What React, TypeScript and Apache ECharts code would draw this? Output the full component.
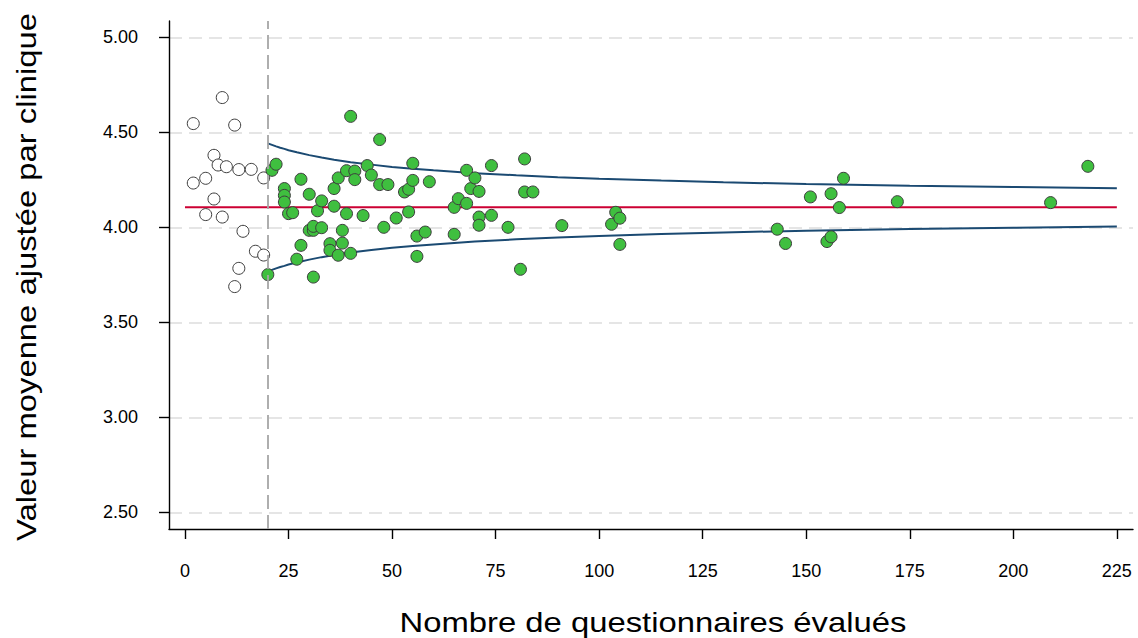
import React, { useEffect, useRef } from 'react';
import * as echarts from 'echarts';

// Clinics below the 20-questionnaire threshold (hollow markers)
const smallClinicN = [9, 2, 12, 7, 8, 10, 13, 16, 19, 5, 2, 7, 5, 9, 14, 17, 19, 13, 12];
const smallClinicMean = [4.683, 4.546, 4.538, 4.379, 4.328, 4.319, 4.304, 4.305, 4.26, 4.258, 4.233, 4.149, 4.067, 4.054, 3.979, 3.874, 3.854, 3.784, 3.688];

// Clinics at or above the threshold (green markers)
const clinicN = [
  20, 21, 22, 24, 24, 24, 25, 26, 27, 28, 28, 30, 30, 31, 31, 31, 32, 33, 33, 35,
  35, 36, 36, 37, 37, 38, 38, 39, 39, 40, 40, 41, 41, 43, 44, 45, 47, 47, 48, 49,
  51, 53, 54, 54, 55, 55, 56, 56, 58, 59, 65, 65, 66, 68, 68, 69, 70, 71, 71, 71,
  74, 74, 78, 81, 82, 82, 84, 91, 103, 104, 105, 105, 143, 145, 151, 155, 156, 156, 158, 159,
  172, 209, 218,
];
const clinicMean = [
  3.751, 4.3, 4.332, 4.204, 4.168, 4.133, 4.072, 4.077, 3.832, 4.253, 3.905, 4.174, 3.984, 3.984, 4.005, 3.738, 4.087, 4.139, 3.998, 3.914,
  3.879, 4.204, 4.111, 4.26, 3.853, 3.917, 3.984, 4.298, 4.072, 4.584, 3.863, 4.296, 4.251, 4.062, 4.325, 4.275, 4.462, 4.225, 4.0, 4.225,
  4.049, 4.186, 4.2, 4.081, 4.337, 4.247, 3.954, 3.847, 3.975, 4.24, 4.105, 3.963, 4.151, 4.126, 4.3, 4.204, 4.26, 4.189, 4.054, 4.011,
  4.325, 4.063, 4.0, 3.779, 4.36, 4.186, 4.186, 4.009, 4.016, 4.079, 4.048, 3.91, 3.99, 3.915, 4.16, 3.925, 3.95, 4.177, 4.104, 4.258,
  4.135, 4.13, 4.321,
];

// Funnel control limits
const limitN = [20, 21, 22, 23, 24, 25, 27, 30, 33, 36, 40, 45, 50, 55, 60, 70, 80, 90, 100, 115, 130, 150, 175, 200, 225];
const upperLimit = [4.442, 4.434, 4.426, 4.419, 4.413, 4.406, 4.395, 4.38, 4.367, 4.356, 4.343, 4.33, 4.318, 4.308, 4.3, 4.285, 4.274, 4.264, 4.256, 4.246, 4.237, 4.228, 4.219, 4.212, 4.205];
const lowerLimit = [3.768, 3.776, 3.784, 3.791, 3.797, 3.804, 3.815, 3.83, 3.843, 3.854, 3.867, 3.88, 3.892, 3.902, 3.91, 3.925, 3.937, 3.946, 3.954, 3.965, 3.973, 3.982, 3.991, 3.998, 4.004];

// Overall mean line
const meanN = [0, 225];
const overallMean = [4.105, 4.105];

const thresholdN = 20;

const xTicks = [0, 25, 50, 75, 100, 125, 150, 175, 200, 225];
const yTicks = [2.5, 3.0, 3.5, 4.0, 4.5, 5.0];

const xTitle = 'Nombre de questionnaires évalués';
const yTitle = 'Valeur moyenne ajustée par clinique';

const FONT = "'Liberation Sans', Arial, Helvetica, sans-serif";

const zip = (a: number[], b: number[]) => a.map((v, i) => [v, b[i]]);

export default function App() {
  const ref = useRef<HTMLDivElement>(null);

  useEffect(() => {
    if (!ref.current) return;
    const chart = echarts.init(ref.current, undefined, { renderer: 'svg' });
    const axisLineStyle = { color: '#000', width: 1.4 };
    const option: any = {
      animation: false,
      backgroundColor: '#ffffff',
      grid: { left: 169, right: 5, top: 21, bottom: 109, containLabel: false, outerBoundsMode: 'none' },
      xAxis: {
        type: 'value',
        min: -3.86,
        max: 228.9,
        minInterval: 25,
        maxInterval: 25,
        axisLine: { show: true, onZero: false, lineStyle: axisLineStyle },
        axisTick: { show: true, customValues: xTicks, length: 10, lineStyle: axisLineStyle },
        axisLabel: {
          show: true,
          customValues: xTicks,
          margin: 33,
          fontSize: 18,
          fontFamily: FONT,
          color: '#000',
          formatter: (v: number) => String(Math.round(v)),
        },
        splitLine: { show: false },
      },
      yAxis: {
        type: 'value',
        position: 'left',
        min: 2.412,
        max: 5.086,
        minInterval: 0.5,
        maxInterval: 0.5,
        axisLine: { show: true, onZero: false, lineStyle: axisLineStyle },
        axisTick: { show: true, customValues: yTicks, length: 10, lineStyle: axisLineStyle },
        axisLabel: {
          show: true,
          customValues: yTicks,
          margin: 31,
          fontSize: 18,
          fontFamily: FONT,
          color: '#000',
          formatter: (v: number) => v.toFixed(2),
        },
        splitLine: { show: true, lineStyle: { color: '#dddddd', width: 1.5, type: [13, 7] } },
      },
      graphic: [
        {
          type: 'text',
          x: 653,
          y: 622.5,
          scaleX: 1.215,
          style: {
            text: xTitle,
            font: `27px ${FONT}`,
            fill: '#000',
            align: 'center',
            verticalAlign: 'middle',
            textAlign: 'center',
            textVerticalAlign: 'middle',
          },
        },
        {
          type: 'text',
          x: 26.5,
          y: 277,
          rotation: Math.PI / 2,
          scaleX: 1.215,
          style: {
            text: yTitle,
            font: `27px ${FONT}`,
            fill: '#000',
            align: 'center',
            verticalAlign: 'middle',
            textAlign: 'center',
            textVerticalAlign: 'middle',
          },
        },
      ],
      series: [
        {
          type: 'line',
          name: 'mean',
          data: zip(meanN, overallMean),
          symbol: 'none',
          lineStyle: { color: '#cc0033', width: 2 },
          z: 2,
          markLine: {
            silent: true,
            symbol: 'none',
            label: { show: false },
            lineStyle: { color: '#a6a6a6', width: 1.8, type: [14, 6] },
            data: [{ xAxis: thresholdN }],
          },
        },
        {
          type: 'line',
          name: 'upper',
          data: zip(limitN, upperLimit),
          symbol: 'none',
          smooth: false,
          lineStyle: { color: '#1b4a72', width: 2 },
          z: 2,
        },
        {
          type: 'line',
          name: 'lower',
          data: zip(limitN, lowerLimit),
          symbol: 'none',
          smooth: false,
          lineStyle: { color: '#1b4a72', width: 2 },
          z: 2,
        },
        {
          type: 'scatter',
          name: 'small',
          data: zip(smallClinicN, smallClinicMean),
          symbol: 'circle',
          symbolSize: 12,
          itemStyle: { color: '#ffffff', borderColor: '#3c3c3c', borderWidth: 1, opacity: 1 },
          z: 3,
        },
        {
          type: 'scatter',
          name: 'clinics',
          data: zip(clinicN, clinicMean),
          symbol: 'circle',
          symbolSize: 12,
          itemStyle: { color: '#3fbf3f', borderColor: '#3c3c3c', borderWidth: 1, opacity: 1 },
          z: 3,
        },
      ],
    };
    chart.setOption(option);
    return () => chart.dispose();
  }, []);

  return (
    <div
      ref={ref}
      style={{ position: 'fixed', left: 0, top: 0, width: 1138, height: 638, background: '#fff' }}
    />
  );
}
